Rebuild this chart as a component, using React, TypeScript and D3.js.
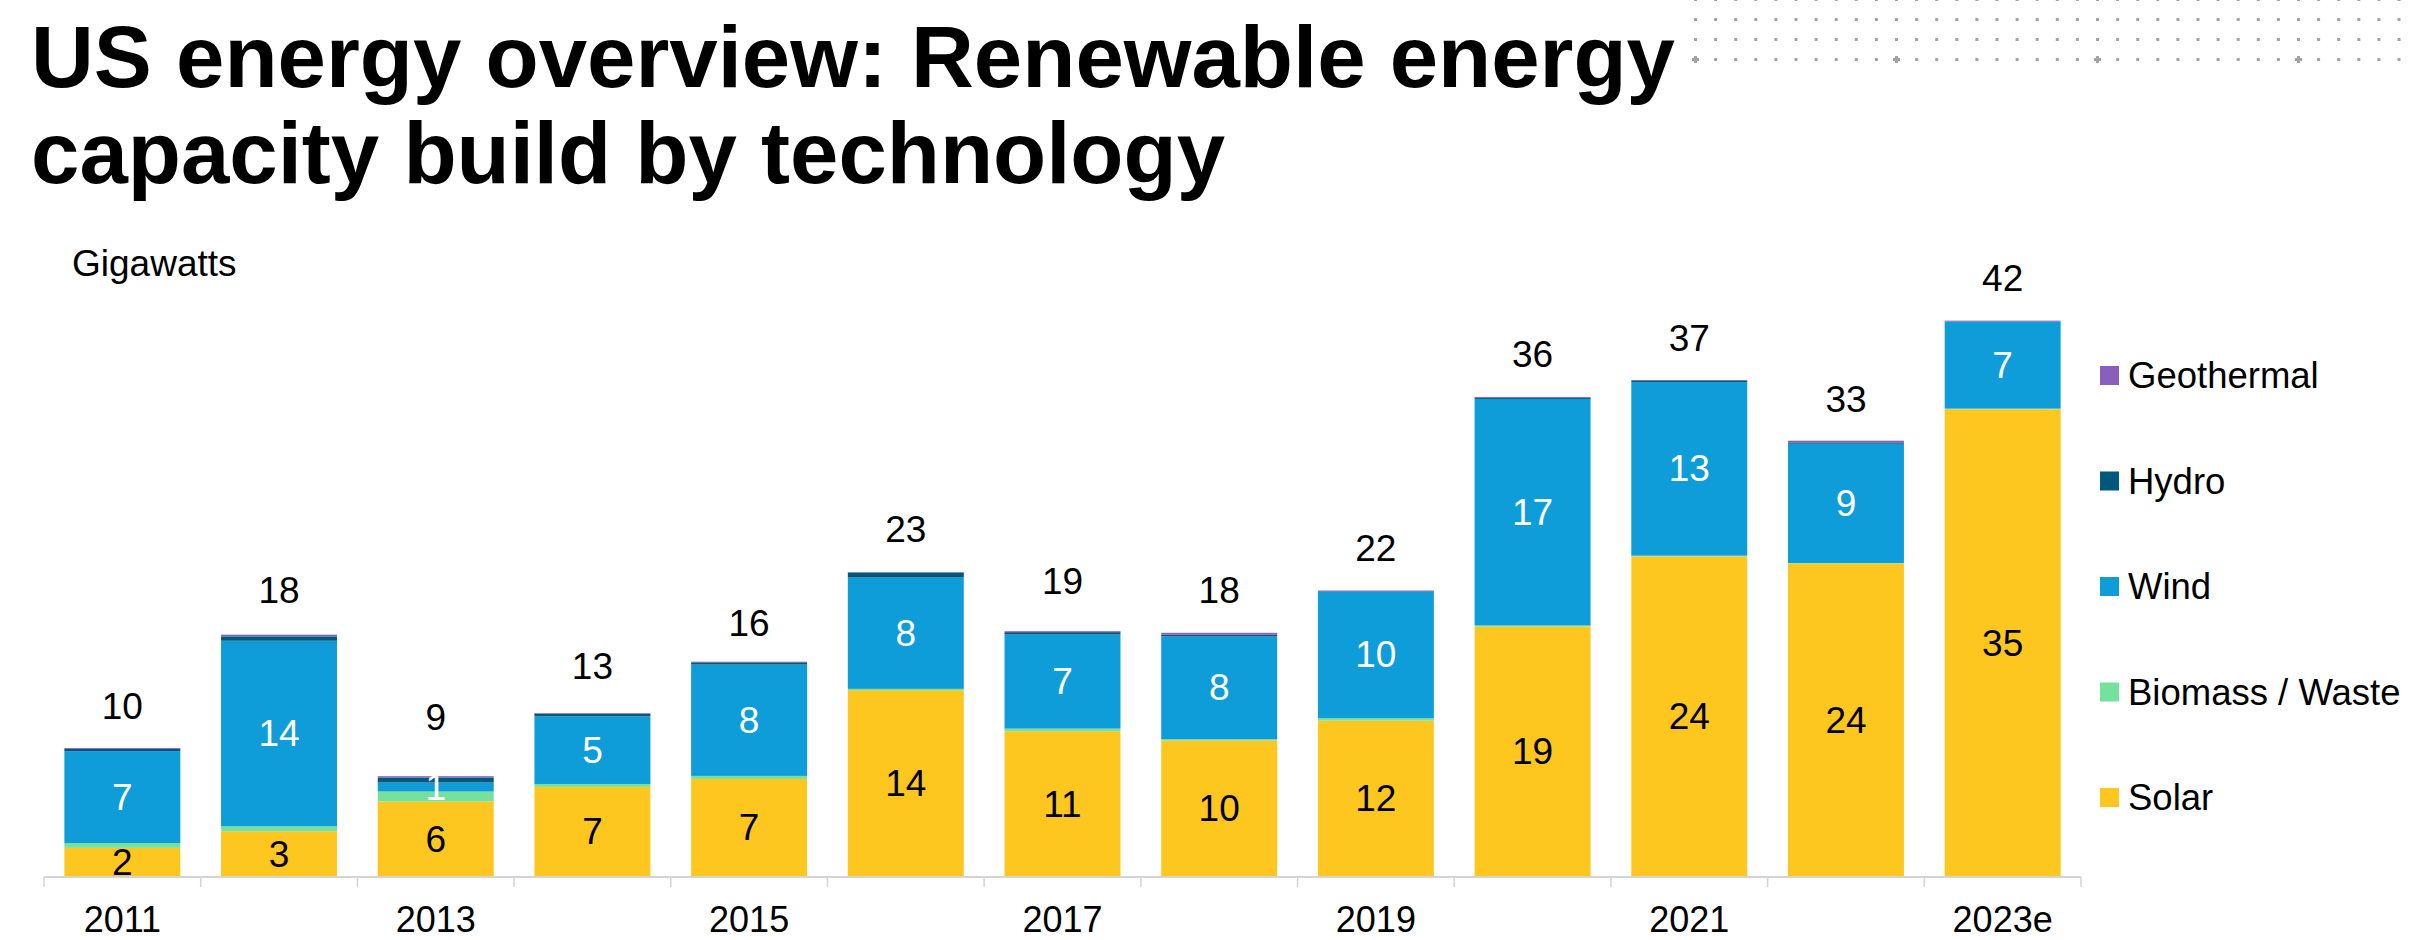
import { useEffect, useRef } from "react";
import * as d3 from "d3";

// Chart data (gigawatts added per year)
const years = ["2011", "2012", "2013", "2014", "2015", "2016", "2017", "2018", "2019", "2020", "2021", "2022", "2023e"];
const solar = [2.2, 3.45, 5.7, 6.8, 7.4, 14.1, 11.0, 10.3, 11.8, 18.9, 24.2, 23.65, 35.3];
const biomass = [0.35, 0.38, 0.75, 0.22, 0.23, 0.1, 0.2, 0.1, 0.18, 0.08, 0.05, 0.05, 0.05];
const wind = [6.95, 14.0, 0.68, 5.1, 8.4, 8.4, 7.1, 7.75, 9.55, 17.1, 13.1, 9.0, 6.55];
const hydro = [0.17, 0.33, 0.38, 0.2, 0.17, 0.38, 0.18, 0.13, 0.04, 0.08, 0.13, 0.1, 0.02];
const geothermal = [0.07, 0.13, 0.1, 0.05, 0.05, 0.03, 0.07, 0.15, 0.05, 0.07, 0.03, 0.13, 0.07];
const totals = [9.64, 18.44, 8.83, 12.66, 15.9, 22.99, 19.07, 18.4, 21.6, 36.25, 37.45, 32.85, 41.97];

const seriesNames = ["Solar", "Biomass / Waste", "Wind", "Hydro", "Geothermal"];
const seriesValues = [solar, biomass, wind, hydro, geothermal];
const seriesColors = ["#fdc71f", "#76e19c", "#0f9dd9", "#00587a", "#8a5fbb"];
const labelledSeries: Record<string, string> = { Solar: "#000000", Wind: "#ffffff" };

const FONT = "'Liberation Sans', Arial, sans-serif";

export default function App() {
    const chartRef = useRef<SVGSVGElement>(null);

    useEffect(() => {
        if (!chartRef.current) return;

        d3.select(chartRef.current).selectAll("*").remove();

        const width = 2416;
        const height = 940;
        const svg = d3.select(chartRef.current).attr("width", width).attr("height", height);

        // Dotted decoration, top right
        const deco = svg.append("g").attr("fill", "#a3a3a3");
        d3.range(4).forEach((r) => {
            d3.range(36).forEach((c) => {
                const cx = 1695.5 + c * 20.1;
                const cy = -0.5 + r * 20;
                if (r === 3 && c % 10 === 0) {
                    deco.append("rect").attr("x", cx - 3.5).attr("y", cy - 1.5).attr("width", 7).attr("height", 3);
                    deco.append("rect").attr("x", cx - 1.5).attr("y", cy - 3.5).attr("width", 3).attr("height", 7);
                } else {
                    deco.append("rect").attr("x", cx - 1.5).attr("y", cy - 1.5).attr("width", 3).attr("height", 3);
                }
            });
        });

        // Title
        const title = svg
            .append("text")
            .attr("x", 31)
            .attr("font-family", FONT)
            .attr("font-weight", "bold")
            .attr("font-size", 87)
            .attr("fill", "#000");
        title.append("tspan").attr("x", 31).attr("y", 87).text("US energy overview: Renewable energy");
        title.append("tspan").attr("x", 31).attr("y", 182.5).text("capacity build by technology");

        svg.append("text")
            .attr("x", 72)
            .attr("y", 276)
            .attr("font-family", FONT)
            .attr("font-size", 37)
            .text("Gigawatts");

        // Scales
        const x = d3.scaleBand().domain(years).range([44, 2081]).paddingInner(0.26).paddingOuter(0.13);
        const y = d3.scaleLinear().domain([0, 42]).range([877, 320.5]);

        // Stack
        const rows = years.map((yr, i) => {
            const row: Record<string, number | string> = { year: yr };
            seriesNames.forEach((s, k) => (row[s] = seriesValues[k][i]));
            return row;
        });
        const stack = d3.stack<Record<string, number | string>>().keys(seriesNames)(rows as any);

        const layers = svg
            .selectAll("g.layer")
            .data(stack)
            .join("g")
            .attr("class", "layer")
            .attr("fill", (_d, i) => seriesColors[i]);

        layers
            .selectAll("rect")
            .data((d) => d)
            .join("rect")
            .attr("x", (d) => x(d.data.year as string)!)
            .attr("width", x.bandwidth())
            .attr("y", (d) => y(d[1]))
            .attr("height", (d) => y(d[0]) - y(d[1]));

        // In-bar labels for solar and wind
        stack.forEach((layer) => {
            const color = labelledSeries[layer.key];
            if (!color) return;
            svg.append("g")
                .selectAll("text")
                .data(layer)
                .join("text")
                .attr("x", (d) => x(d.data.year as string)! + x.bandwidth() / 2)
                .attr("y", (d) => (y(d[0]) + y(d[1])) / 2)
                .attr("text-anchor", "middle")
                .attr("dominant-baseline", "central")
                .attr("font-family", FONT)
                .attr("font-size", 37)
                .attr("fill", color)
                .text((d) => Math.round(d[1] - d[0]));
        });

        // Totals above bars
        svg.append("g")
            .selectAll("text")
            .data(totals)
            .join("text")
            .attr("x", (_d, i) => x(years[i])! + x.bandwidth() / 2)
            .attr("y", (d) => y(d) - 30)
            .attr("text-anchor", "middle")
            .attr("font-family", FONT)
            .attr("font-size", 37)
            .attr("fill", "#000")
            .text((d) => Math.round(d));

        // X axis: baseline, category boundary ticks, every other year label
        const axis = svg.append("g").attr("stroke", "#d4d4d4");
        axis.append("line").attr("x1", 44).attr("x2", 2081).attr("y1", 877).attr("y2", 877).attr("stroke-width", 2);
        const step = x.step();
        axis.selectAll("line.tick")
            .data(d3.range(years.length + 1))
            .join("line")
            .attr("class", "tick")
            .attr("x1", (i) => x(years[0])! - step * 0.13 + i * step)
            .attr("x2", (i) => x(years[0])! - step * 0.13 + i * step)
            .attr("y1", 877)
            .attr("y2", 887)
            .attr("stroke-width", 1.5);

        svg.append("g")
            .selectAll("text")
            .data(years.filter((_d, i) => i % 2 === 0))
            .join("text")
            .attr("x", (d) => x(d)! + x.bandwidth() / 2)
            .attr("y", 932)
            .attr("text-anchor", "middle")
            .attr("font-family", FONT)
            .attr("font-size", 36)
            .attr("fill", "#000")
            .text((d) => d);

        // Legend, top to bottom: reverse of stack order
        const legendItems = seriesNames.map((n, i) => ({ name: n, color: seriesColors[i] })).reverse();
        const legend = svg
            .append("g")
            .selectAll("g")
            .data(legendItems)
            .join("g")
            .attr("transform", (_d, i) => `translate(2100,${375.5 + i * 105.5})`);
        legend.append("rect").attr("x", 0).attr("y", -9.5).attr("width", 19).attr("height", 19).attr("fill", (d) => d.color);
        legend
            .append("text")
            .attr("x", 28)
            .attr("y", 12.5)
            .attr("font-family", FONT)
            .attr("font-size", 36.5)
            .attr("fill", "#000")
            .text((d) => d.name);
    }, []);

    return (
        <div style={{ position: "absolute", left: 0, top: 0, background: "#fff" }}>
            <svg ref={chartRef} style={{ display: "block" }} />
        </div>
    );
}
